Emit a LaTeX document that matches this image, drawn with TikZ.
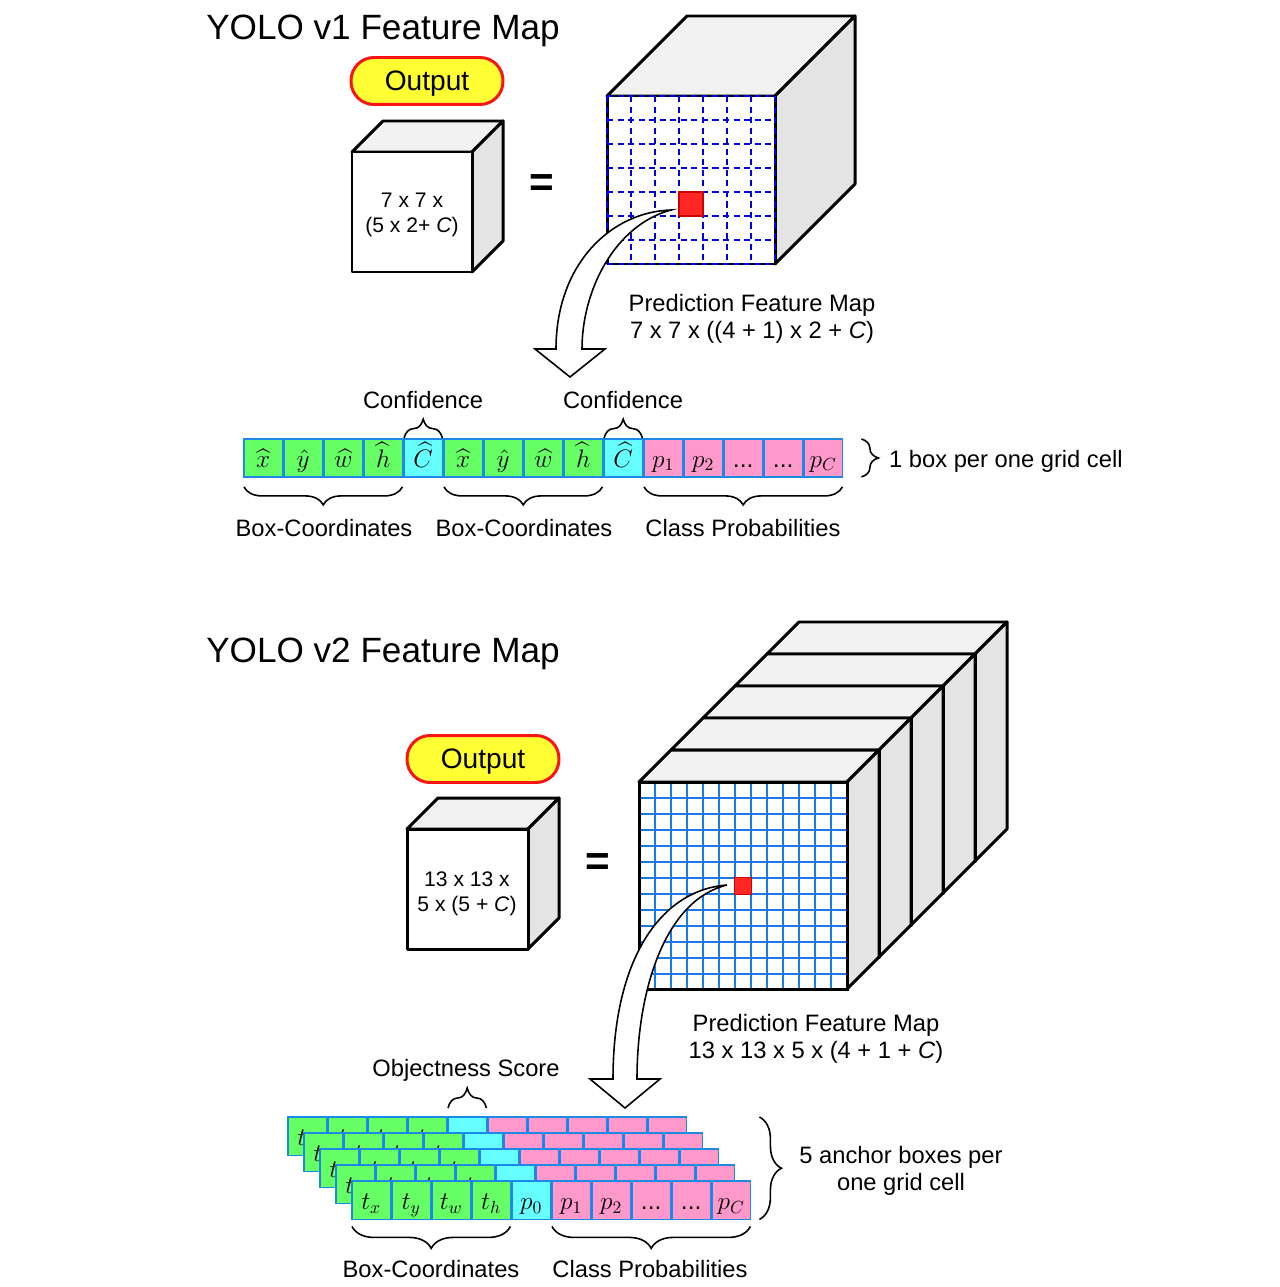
\documentclass[tikz,border=0pt]{standalone}
\usepackage{fontspec}
\setmainfont{Liberation Sans}
\usepackage{amsmath}
\usetikzlibrary{
  positioning,
  calc,
  decorations.pathreplacing
}
\definecolor{yolored}{RGB}{250,20,20}
\definecolor{yoloyellow}{RGB}{255,255,51}
\definecolor{cellgreen}{RGB}{102,255,102}
\definecolor{cellcyan}{RGB}{102,255,255}
\definecolor{cellpink}{RGB}{255,153,204}
\definecolor{cellblue}{RGB}{30,136,229}
\definecolor{gridblue}{RGB}{25,122,230}
\definecolor{dashblue}{RGB}{0,0,215}
\definecolor{cubetop}{RGB}{241,241,241}
\definecolor{cubeside}{RGB}{228,228,228}
\tikzset{
  face/.style={draw=black, line width=1.7pt, line join=round, fill=white},
  topface/.style={face, fill=cubetop},
  sideface/.style={face, fill=cubeside},
  pill/.style={
    rectangle, rounded corners=0.46cm, draw=yolored, line width=1.7pt,
    fill=yoloyellow, minimum width=3.04cm, minimum height=0.94cm,
    text depth=0pt, font=\fontsize{16}{18}\selectfont
  },
  heading/.style={text depth=0pt, font=\fontsize{20}{24}\selectfont},
  lbl/.style={font=\fontsize{13.5}{15}\selectfont, align=center},
  cubetext/.style={font=\fontsize{12}{14}\selectfont, align=center},
  eqsign/.style={font=\fontsize{24}{26}\selectfont\bfseries},
  cell/.style={
    rectangle, draw=cellblue, line width=0.9pt, anchor=north west,
    minimum width=0.8cm-0.9pt, minimum height=0.79cm-0.9pt, inner sep=0pt,
    outer sep=0pt, text height=12.5pt, text depth=2pt,
    font=\fontsize{14}{16}\selectfont
  },
  cellG/.style={cell, fill=cellgreen},
  cellC/.style={cell, fill=cellcyan},
  cellP/.style={cell, fill=cellpink},
  hotcell/.style={rectangle, draw=red!80!black, line width=0.6pt, fill=red!85, inner sep=0pt},
  bigarrow/.style={draw=black, fill=white, line width=0.9pt, line join=miter},
  curly/.style 2 args={decorate, decoration={brace, amplitude=#1, raise=#2}, line width=0.9pt}
}

\begin{document}
\begin{tikzpicture}[x=0.02cm, y=-0.02cm]
  \useasboundingbox (0,0) rectangle (1280,1287);

  % ---------- YOLO v1 ----------
  \node[heading] (title1) at (383,27) {YOLO v1 Feature Map};
  \node[pill] (out1) at (427,81) {Output};

  % output cube
  \draw[topface] (352,152) -- (383,121) -- (503,121) -- (472,152) -- cycle;
  \draw[sideface] (472,152) -- (503,121) -- (503,241) -- (472,272) -- cycle;
  \draw[face] (352,152) rectangle (472,272);
  \node[cubetext] (dim1) at (412,215) {7 x 7 x\\(5 x 2+ \textit{C})};
  \node[eqsign] (eq1) at (542,186) {=};

  % prediction cube with 7x7 grid
  \draw[topface] (607,96) -- (687,16) -- (855,16) -- (775,96) -- cycle;
  \draw[sideface] (775,96) -- (855,16) -- (855,184) -- (775,264) -- cycle;
  \draw[face] (607,96) rectangle (775,264);
  \foreach \k in {0,...,7}{
    \draw[dashblue, line width=1pt, dash pattern=on 3.5pt off 2.5pt]
      (607+24*\k,96) -- (607+24*\k,264);
    \draw[dashblue, line width=1pt, dash pattern=on 3.5pt off 2.5pt]
      (607,96+24*\k) -- (775,96+24*\k);
  }
  \node[hotcell, minimum size=0.48cm] (hot1) at (691,204) {};

  \coordinate (tail1) at (671,210);
  \coordinate (tip1) at (570,377);
  \draw[bigarrow] (tail1) .. controls (610,212) and (556,265) .. (556,349)
    -- (535,349) -- (tip1) -- (605,349) -- (582,349)
    .. controls (582,290) and (615,225) .. (tail1) -- cycle;

  \node[lbl] (pred1) at (752,319) {Prediction Feature Map\\7 x 7 x ((4 + 1) x 2 + \textit{C})};

  % one grid cell vector
  \foreach \lab/\sty [count=\i] in {
      {$\widehat{x}$}/cellG, {$\hat{y}$}/cellG, {$\widehat{w}$}/cellG, {$\widehat{h}$}/cellG,
      {$\widehat{C}$}/cellC,
      {$\widehat{x}$}/cellG, {$\hat{y}$}/cellG, {$\widehat{w}$}/cellG, {$\widehat{h}$}/cellG,
      {$\widehat{C}$}/cellC,
      {$p_1$}/cellP, {$p_2$}/cellP, {...}/cellP, {...}/cellP, {$p_C$}/cellP}
    \node[\sty] (r\i) at ({244+40*(\i-1)},439) {\lab};

  \draw[curly={0.38cm}{0.5pt}] (r5.north west) -- (r5.north east);
  \draw[curly={0.38cm}{0.5pt}] (r10.north west) -- (r10.north east);
  \node[lbl] (conf1) at (423,400) {Confidence};
  \node[lbl] (conf2) at (623,400) {Confidence};

  \draw[curly={0.36cm}{0.2cm}] (r4.south east) -- (r1.south west);
  \draw[curly={0.36cm}{0.2cm}] (r9.south east) -- (r6.south west);
  \draw[curly={0.36cm}{0.2cm}] (r15.south east) -- (r11.south west);
  \node[lbl] (box1) at (324,528) {Box-Coordinates};
  \node[lbl] (box2) at (524,528) {Box-Coordinates};
  \node[lbl] (cls1) at (743,528) {Class Probabilities};

  \draw[curly={0.34cm}{0.38cm}] (r15.north east) -- (r15.south east);
  \node[lbl, anchor=west] (per1) at (883,461) {1 box per one grid cell};

  % ---------- YOLO v2 ----------
  \node[heading] (title2) at (383,650) {YOLO v2 Feature Map};
  \node[pill] (out2) at (483,759) {Output};

  % output cube
  \draw[topface] (407,829) -- (438,798) -- (559,798) -- (528,829) -- cycle;
  \draw[sideface] (528,829) -- (559,798) -- (559,918) -- (528,949) -- cycle;
  \draw[face] (407,829) rectangle (528,949);
  \node[cubetext] (dim2) at (467,894) {13 x 13 x\\5 x (5 + \textit{C})};
  \node[eqsign] (eq2) at (598,865) {=};

  % five stacked slabs, back to front
  \foreach \k in {4,3,2,1,0}{
    \begin{scope}[shift={(32*\k,-32*\k)}]
      \draw[topface] (639,782) -- (671,750) -- (879,750) -- (847,782) -- cycle;
      \draw[sideface] (847,782) -- (879,750) -- (879,957) -- (847,989) -- cycle;
      \draw[face] (639,782) rectangle (847,989);
    \end{scope}
  }
  \foreach \k in {1,...,12}{
    \draw[gridblue, line width=1pt] (639+16*\k,782) -- (639+16*\k,989);
    \draw[gridblue, line width=1pt] (639,782+16*\k) -- (847,782+16*\k);
  }
  \draw[line width=1.7pt] (639,782) rectangle (847,989);
  \node[hotcell, minimum size=0.35cm] (hot2) at (743,886) {};

  \coordinate (tail2) at (727,885);
  \coordinate (tip2) at (625,1108);
  \draw[bigarrow] (tail2) .. controls (660,890) and (613,960) .. (613,1079)
    -- (590,1079) -- (tip2) -- (660,1079) -- (637,1079)
    .. controls (637,990) and (665,900) .. (tail2) -- cycle;

  \node[lbl] (pred2) at (816,1039) {Prediction Feature Map\\13 x 13 x 5 x (4 + 1 + \textit{C})};

  % five anchor-box vectors
  \foreach \k in {0,...,4}{
    \foreach \lab/\sty [count=\i] in {
        {$t_x$}/cellG, {$t_y$}/cellG, {$t_w$}/cellG, {$t_h$}/cellG,
        {$p_0$}/cellC,
        {$p_1$}/cellP, {$p_2$}/cellP, {...}/cellP, {...}/cellP, {$p_C$}/cellP}
      \node[\sty, minimum height=0.8cm-0.9pt] (q\k-\i) at ({288+16*\k+40*(\i-1)},{1117+16*\k}) {\lab};
  }

  \draw[curly={0.4cm}{0.18cm}] (q0-5.north west) -- (q0-5.north east);
  \node[lbl] (obj) at (466,1070) {Objectness Score};

  \draw[curly={0.44cm}{0.14cm}] (q4-4.south east) -- (q4-1.south west);
  \draw[curly={0.44cm}{0.14cm}] (q4-10.south east) -- (q4-6.south west);
  \node[lbl] (box3) at (431,1269) {Box-Coordinates};
  \node[lbl] (cls2) at (650,1269) {Class Probabilities};

  \draw[curly={0.44cm}{0.18cm}] (q4-10.east |- q0-10.north) -- (q4-10.south east);
  \node[lbl] (per2) at (901,1171) {5 anchor boxes per\\one grid cell};
\end{tikzpicture}
\end{document}
